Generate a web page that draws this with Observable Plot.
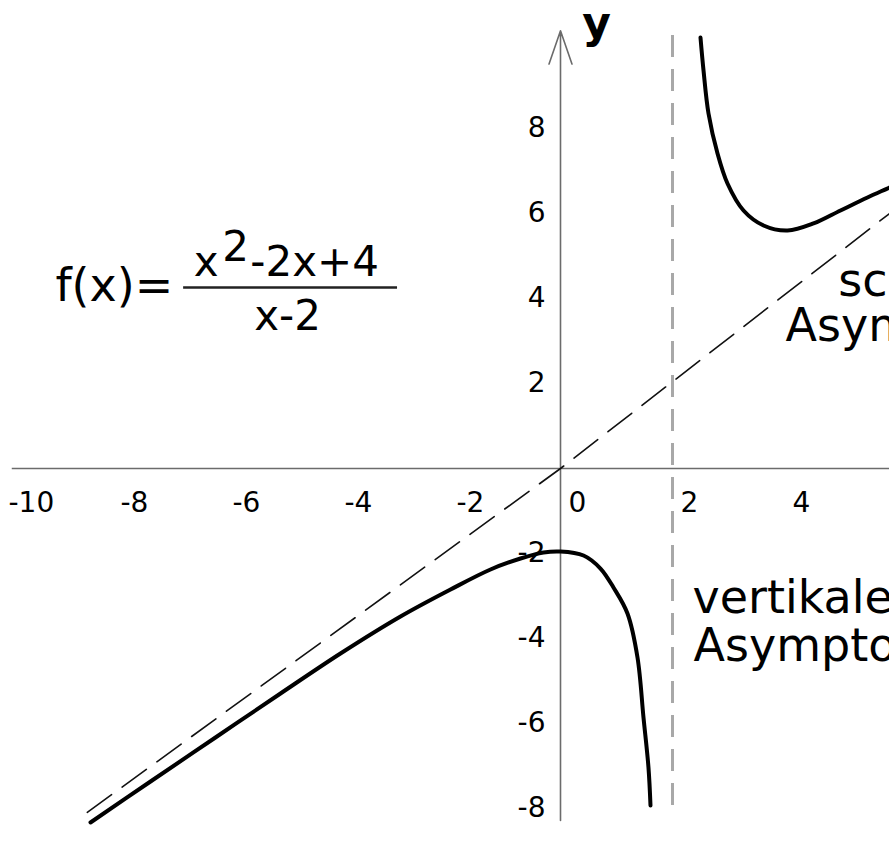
<!DOCTYPE html>
<html>
<head>
<meta charset="utf-8">
<script src="https://cdn.jsdelivr.net/npm/d3@7"></script>
<script src="https://cdn.jsdelivr.net/npm/@observablehq/plot@0.6"></script>
<style>
  html, body { margin: 0; padding: 0; background: #fff; overflow: hidden; }
  #chart svg { display: block; overflow: hidden; }
</style>
</head>
<body>
<div id="chart"></div>
<script>
// Tick labels along the two axes
const xTicks = [-10, -8, -6, -4, -2, 0, 2, 4];
const yTicks = [8, 6, 4, 2, -2, -4, -6, -8];

// f(x) = (x² - 2x + 4) / (x - 2): right branch (x > 2)
const upperX = [2.50, 2.554, 2.643, 2.804, 2.982, 3.268, 3.625, 4.054, 4.518, 5.00, 5.482, 5.875, 6.10];
const upperY = [10.14, 9.365, 8.353, 7.412, 6.706, 6.071, 5.718, 5.60, 5.765, 6.071, 6.376, 6.612, 6.75];

// left branch (x < 2)
const lowerX = [-8.393, -7.321, -6.161, -5.00, -3.929, -2.857, -1.964, -1.25, -0.714, -0.304, 0.00, 0.411, 0.714, 0.946, 1.196, 1.375, 1.482, 1.571, 1.607];
const lowerY = [-8.329, -7.365, -6.329, -5.294, -4.353, -3.482, -2.847, -2.376, -2.118, -1.976, -1.953, -2.047, -2.353, -2.80, -3.412, -4.447, -5.859, -7.035, -7.929];

// oblique asymptote through the origin, and vertical asymptote x = 2
const slantX = [-8.45, 0, 5.875];
const slantY = [-8.09, 0, 6.0];
const poleX = [2];

const zip = (xs, ys) => xs.map((x, i) => ({x, y: ys[i]}));
const upper = zip(upperX, upperY);
const lower = zip(lowerX, lowerY);
const slant = zip(slantX, slantY);

const font = "DejaVu Sans";
const axisColor = "#6b6b6b";
const label = (s, x, y, size, extra = {}) =>
  Plot.text([s], {x, y, text: d => d, textAnchor: "start", lineAnchor: "bottom", fontSize: size, fill: "#000", ...extra});

const chart = Plot.plot({
  width: 889,
  height: 861,
  margin: 0,
  x: {domain: [-10, 5.875], axis: null},
  y: {domain: [-9.247, 11.012], axis: null},
  style: {fontFamily: font, background: "#fff", color: "#000"},
  marks: [
    // x axis
    Plot.ruleY([0], {x1: -9.79, x2: 5.875, stroke: axisColor, strokeWidth: 1.6}),
    // y axis with arrow head
    Plot.arrow([{x: 0, y1: -8.28, y2: 10.3}], {
      x1: "x", x2: "x", y1: "y1", y2: "y2",
      stroke: axisColor, strokeWidth: 1.6, headLength: 33, headAngle: 38
    }),
    // vertical asymptote
    Plot.ruleX(poleX, {y1: 10.19, y2: -8.0, stroke: "#a8a8a8", strokeWidth: 3, strokeDasharray: "22,12"}),
    // oblique asymptote
    Plot.line(slant, {x: "x", y: "y", stroke: "#111", strokeWidth: 1.6, strokeDasharray: "30,13"}),
    // function graph
    Plot.line(lower, {x: "x", y: "y", stroke: "#000", strokeWidth: 4, curve: "catmull-rom"}),
    Plot.line(upper, {x: "x", y: "y", stroke: "#000", strokeWidth: 4, curve: "catmull-rom"}),
    // tick labels
    Plot.text(xTicks, {x: d => d, y: 0, dy: 35, dx: 8, textAnchor: "start", text: d => String(d), fontSize: 28, fill: "#000"}),
    Plot.text(yTicks, {x: 0, y: d => d, dx: -15, textAnchor: "end", text: d => String(d), fontSize: 28, fill: "#000"}),
    // axis name
    label("y", 0.39, 10.12, 44, {fontWeight: "bold"}),
    // formula
    label("f(x)=", -9.02, 3.95, 46),
    label("x", -6.55, 4.54, 42),
    label("2", -6.04, 4.89, 42),
    label("-2x+4", -5.54, 4.54, 42),
    Plot.ruleY([4.26], {x1: -6.73, x2: -2.91, stroke: "#222", strokeWidth: 2.5}),
    Plot.text(["x-2"], {x: -4.875, y: 3.25, text: d => d, textAnchor: "middle", lineAnchor: "bottom", fontSize: 42, fill: "#000"}),
    // asymptote labels
    label("schiefe", 4.96, 4.07, 46),
    label("Asymptote", 4.02, 3.01, 46),
    label("vertikale", 2.357, -3.39, 46),
    label("Asymptote", 2.375, -4.52, 46)
  ]
});

document.getElementById("chart").appendChild(chart);
</script>
</body>
</html>
